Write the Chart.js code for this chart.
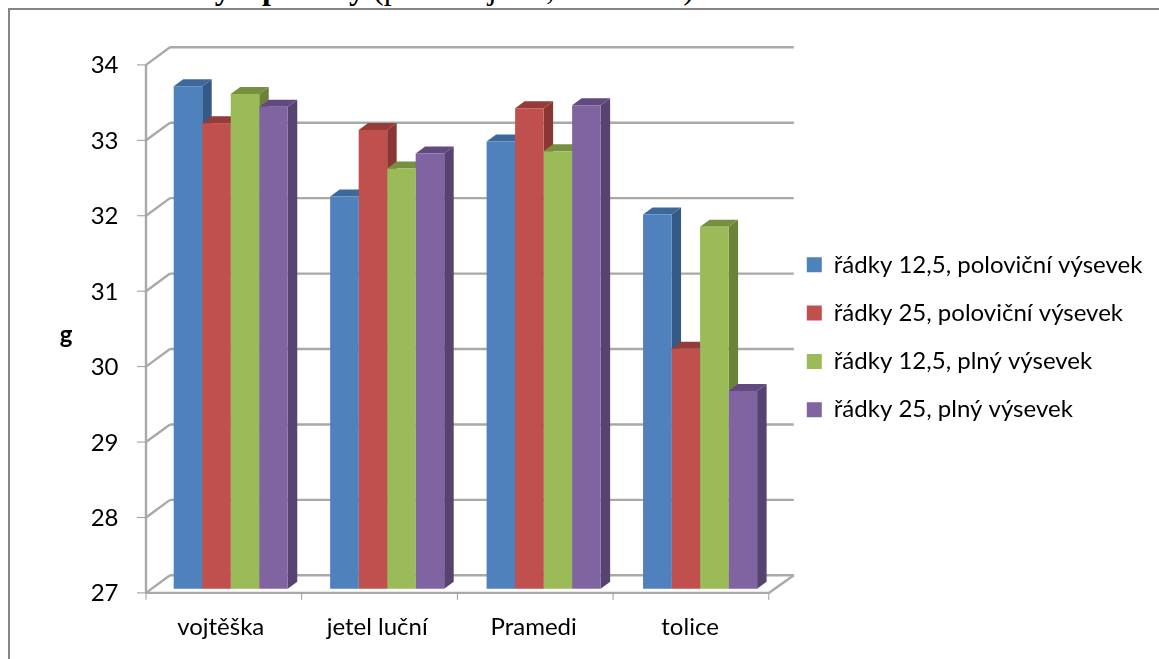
<!DOCTYPE html>
<html lang="cs">
<head>
<meta charset="utf-8">
<title>HTS krycí plodiny</title>
<script src="https://cdn.jsdelivr.net/npm/chart.js@4"></script>
<style>
  html, body { margin: 0; padding: 0; background: #fff; overflow: hidden; }
  #page { position: relative; width: 1159px; height: 659px; overflow: hidden; }
  #caption {
    position: absolute; left: 13px; top: -30px; white-space: nowrap;
    font: 32px/36px "Liberation Serif", serif; color: #000;
  }
  #frame {
    position: absolute; left: 8px; top: 8px; right: -4px; bottom: -4px;
    border: 2px solid #858585;
  }
  canvas { position: absolute; left: 0; top: 0; }
</style>
</head>
<body>
<div id="page">
  <div id="caption"><b>Graf 3 HTS krycí plodiny</b> (pšenice jarní, Troubsko)</div>
  <div id="frame"></div>
  <canvas id="chart" width="1159" height="659"></canvas>
</div>
<script>
const categories = ["vojtěška", "jetel luční", "Pramedi", "tolice"];
const seriesNames = [
  "řádky 12,5, poloviční výsevek",
  "řádky 25, poloviční výsevek",
  "řádky 12,5, plný výsevek",
  "řádky 25, plný výsevek",
];
const halfSeed125 = [33.66, 32.2, 32.93, 31.96];
const halfSeed25 = [33.17, 33.08, 33.37, 30.18];
const fullSeed125 = [33.56, 32.57, 32.8, 31.8];
const fullSeed25 = [33.39, 32.77, 33.41, 29.62];
const yMin = 27;
const yMax = 34;

const frontColors = ["#4f81bd", "#c0504d", "#9bbb59", "#8064a2"];
const sideColors = ["#355a86", "#8a3634", "#6b8339", "#574370"];
const topColors = ["#3d689b", "#953b39", "#76903f", "#62497f"];

const FONT = "Lato, Carlito, sans-serif";
const GRID = "#a9a9a9";

// fake 3D: how far the bar sides recede, and where the walls sit relative to the bars
const DEPTH_X = 9.5;
const DEPTH_Y = 7;
const WALL_X = 17.5;
const WALL_Y = -13.4;
const FRONT_X = -6.5;
const FRONT_Y = 4.2;

function line(ctx, x1, y1, x2, y2) {
  ctx.beginPath();
  ctx.moveTo(x1, y1);
  ctx.lineTo(x2, y2);
  ctx.stroke();
}

function poly(ctx, color, pts) {
  ctx.fillStyle = color;
  ctx.beginPath();
  pts.forEach((p, i) => (i ? ctx.lineTo(p[0], p[1]) : ctx.moveTo(p[0], p[1])));
  ctx.closePath();
  ctx.fill();
}

const box3d = {
  id: "box3d",
  beforeInit(chart) {
    // reserve the whole strip right of the plot for the legend
    const fit = chart.legend.fit;
    chart.legend.fit = function () {
      fit.call(this);
      this.width = 380.7;
    };
  },
  afterLayout(chart) {
    chart.legend.left = 782.5;
    chart.legend.top = 228.5;
  },
  beforeDatasetsDraw(chart) {
    const { ctx, scales: { x, y } } = chart;
    const frontL = x.left + FRONT_X;
    const frontR = x.right + FRONT_X - 3;
    const backL = x.left + WALL_X;
    const backR = x.right + WALL_X - 2;
    const floor = y.getPixelForValue(yMin);
    const floorFront = floor + FRONT_Y;
    ctx.save();

    // walls and floor
    ctx.strokeStyle = GRID;
    ctx.lineWidth = 2.4;
    for (let v = yMin; v <= yMax; v++) {
      const p = y.getPixelForValue(v);
      line(ctx, backL, p + WALL_Y, backR, p + WALL_Y);
      line(ctx, frontL, p + FRONT_Y, backL, p + WALL_Y);
    }
    line(ctx, frontL, y.getPixelForValue(yMax) + FRONT_Y, frontL, floorFront);
    line(ctx, frontL, floorFront, frontR, floorFront);
    line(ctx, frontR, floorFront, backR, floor + WALL_Y);

    // tick marks on the front edges
    ctx.strokeStyle = "#9a9a9a";
    ctx.lineWidth = 1;
    for (let v = yMin; v <= yMax; v++) {
      const p = y.getPixelForValue(v) + FRONT_Y;
      line(ctx, frontL - 9, p, frontL, p);
    }
    categories.concat("").forEach((c, i) => {
      const tx = frontL + (frontR - frontL) * i / categories.length;
      line(ctx, tx, floorFront, tx, floorFront + 7);
    });

    // side and top faces, left to right so nearer faces overlap correctly
    categories.forEach((c, i) => {
      chart.data.datasets.forEach((ds, d) => {
        const bar = chart.getDatasetMeta(d).data[i];
        const l = bar.x - bar.width / 2;
        const r = bar.x + bar.width / 2;
        const t = bar.y;
        poly(ctx, sideColors[d], [[r, t], [r + DEPTH_X, t - DEPTH_Y], [r + DEPTH_X, floor - DEPTH_Y], [r, floor]]);
        poly(ctx, topColors[d], [[l, t], [l + DEPTH_X, t - DEPTH_Y], [r + DEPTH_X, t - DEPTH_Y], [r, t]]);
      });
    });
    ctx.restore();
  },
  afterDraw(chart) {
    // upright axis unit, the built-in axis title would be rotated
    const { ctx } = chart;
    ctx.save();
    ctx.fillStyle = "#000";
    ctx.font = "bold 24px " + FONT;
    ctx.textAlign = "center";
    ctx.textBaseline = "middle";
    ctx.fillText("g", 66, 335);
    ctx.restore();
  },
};

new Chart(document.getElementById("chart"), {
  type: "bar",
  data: {
    labels: categories,
    datasets: [halfSeed125, halfSeed25, fullSeed125, fullSeed25].map((data, i) => ({
      label: seriesNames[i],
      data: data,
      backgroundColor: frontColors[i],
      borderWidth: 0,
      categoryPercentage: 0.729,
      barPercentage: 1,
    })),
  },
  options: {
    responsive: false,
    animation: false,
    layout: { padding: { top: 60.7, left: 0, right: 0, bottom: 0 } },
    scales: {
      x: {
        grid: { display: false },
        border: { display: false },
        afterFit(scale) { scale.height = 70.3; },
        ticks: {
          color: "#000",
          padding: 16,
          labelOffset: -10,
          maxRotation: 0,
          font: { family: FONT, size: 24 },
        },
      },
      y: {
        min: yMin,
        max: yMax,
        grid: { display: false },
        border: { display: false },
        afterFit(scale) { scale.width = 152.5; },
        ticks: {
          stepSize: 1,
          color: "#000",
          padding: 26,
          labelOffset: 5,
          font: { family: FONT, size: 24 },
        },
      },
    },
    plugins: {
      tooltip: { enabled: false },
      legend: {
        position: "right",
        align: "start",
        labels: {
          color: "#000",
          boxWidth: 15,
          boxHeight: 15,
          padding: 24.3,
          font: { family: FONT, size: 24 },
        },
      },
    },
  },
  plugins: [box3d],
});
</script>
</body>
</html>
